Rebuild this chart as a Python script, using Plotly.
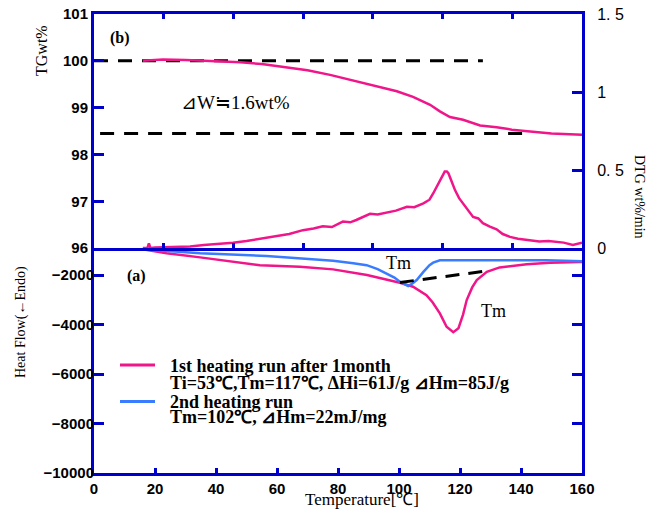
import plotly.graph_objects as go

# ---------------- data ----------------
# TG curve (top panel, left axis, wt%)
tg_t = [16, 22.6, 30, 40, 48, 55, 61, 70, 77.4, 85, 93.8, 99.3, 104.6, 110.2, 113.4, 116.7, 121, 126.6, 132, 137, 143, 150, 160]
tg_v = [100.0, 100.03, 100.02, 100.0, 99.97, 99.93, 99.88, 99.8, 99.7, 99.58, 99.45, 99.35, 99.23, 99.06, 98.92, 98.8, 98.74, 98.62, 98.58, 98.53, 98.49, 98.45, 98.42]

# DTG curve (top panel, right axis, wt%/min)
dtg_t = [16, 17.5, 18, 18.5, 20, 22.6, 27, 31.5, 36, 41, 45.6, 50, 55.4, 60, 64, 68.5, 72, 75, 78, 81.6, 84, 86, 90.5, 93, 96, 99,
         102.6, 105, 108, 110, 111.2, 112.5, 113.4, 114.3, 115, 115.7, 116.2, 117.2, 118.4, 119.7, 121, 122.5, 124.3, 126, 127.5,
         129.8, 132, 134, 136.4, 139, 143, 146, 149, 151.8, 154, 157, 160]
dtg_v = [0.0, 0.0, 0.03, 0.0, 0.003, 0.005, 0.008, 0.01, 0.02, 0.025, 0.034, 0.045, 0.062, 0.08, 0.09, 0.115, 0.125, 0.14, 0.135,
         0.17, 0.165, 0.18, 0.22, 0.215, 0.227, 0.24, 0.265, 0.262, 0.287, 0.31, 0.35, 0.4, 0.436, 0.47, 0.49, 0.49, 0.48, 0.43,
         0.37, 0.32, 0.287, 0.25, 0.2, 0.19, 0.16, 0.137, 0.12, 0.09, 0.072, 0.06, 0.05, 0.042, 0.045, 0.04, 0.035, 0.02, 0.035]

# DSC 1st heating run (bottom panel)
hf1_t = [16, 23.8, 34.8, 45.6, 54.4, 67.5, 78.4, 89.5, 100.3, 104.6, 109, 111, 113.4, 115.6, 117.8, 119.5, 121, 122.2, 124,
         125.5, 128.8, 133, 141.9, 149.5, 160]
hf1_v = [-960, -1120, -1285, -1460, -1600, -1665, -1770, -2000, -2310, -2470, -2810, -3100, -3550, -4090, -4310, -4150, -3600,
         -3010, -2500, -2200, -1870, -1690, -1560, -1500, -1470]

# DSC 2nd heating run (bottom panel)
hf2_t = [16, 34.8, 56.6, 78.4, 85, 89.4, 93, 96, 98.5, 100.3, 103, 104.5, 105.8, 108, 110, 111.2, 113.4, 130, 148.4, 160]
hf2_v = [-960, -1120, -1230, -1420, -1520, -1600, -1760, -1930, -2100, -2270, -2440, -2330, -2200, -1870, -1600, -1500, -1400,
         -1400, -1400, -1440]

# guide lines
base_t = [100.3, 129]
base_v = [-2300, -1830]
tg_top_t = [0, 127.5]
tg_top_v = [100.0, 100.0]
tg_bot_t = [2, 143]
tg_bot_v = [98.45, 98.45]

x_ticks = [0, 20, 40, 60, 80, 100, 120, 140, 160]
x_labels = ["0", "20", "40", "60", "80", "100", "120", "140", "160"]
tg_ticks = [96, 97, 98, 99, 100, 101]
tg_labels = ["96", "97", "98", "99", "100", "101"]
dtg_ticks = [0, 0.5, 1, 1.5]
dtg_labels = ["0", "0. 5", "1", "1. 5"]
hf_ticks = [-10000, -8000, -6000, -4000, -2000]
hf_labels = ["\u221210000", "\u22128000", "\u22126000", "\u22124000", "\u22122000"]
top_ticks = [160 / 7 * k for k in range(8)]

# ---------------- style ----------------
PINK = "#f0168a"
BLUE = "#3a7cff"
AX = "#0000cc"
PAGE_W, PAGE_H = 653, 509
L, R, T, B = 94, 582, 14, 473


def px(x):
    return (x - L) / (R - L)


def py(y):
    return (B - y) / (B - T)


def bold(labels):
    return ["<b>%s</b>" % s for s in labels]


tickfont = dict(family="Liberation Sans", size=15, color="black")
serif = "Liberation Serif"

fig = go.Figure()
fig.add_trace(go.Scatter(x=hf1_t, y=hf1_v, mode="lines", line=dict(color=PINK, width=2.5), xaxis="x", yaxis="y", showlegend=False))
fig.add_trace(go.Scatter(x=hf2_t, y=hf2_v, mode="lines", line=dict(color=BLUE, width=2.5), xaxis="x", yaxis="y", showlegend=False))
fig.add_trace(go.Scatter(x=base_t, y=base_v, mode="lines", line=dict(color="black", width=3, dash="14px,9px"), xaxis="x", yaxis="y", showlegend=False))
fig.add_trace(go.Scatter(x=tg_top_t, y=tg_top_v, mode="lines", line=dict(color="black", width=3, dash="14px,10px"), xaxis="x2", yaxis="y2", showlegend=False))
fig.add_trace(go.Scatter(x=tg_bot_t, y=tg_bot_v, mode="lines", line=dict(color="black", width=3, dash="14px,10px"), xaxis="x2", yaxis="y2", showlegend=False))
fig.add_trace(go.Scatter(x=tg_t, y=tg_v, mode="lines", line=dict(color=PINK, width=2.5), xaxis="x2", yaxis="y2", showlegend=False))
fig.add_trace(go.Scatter(x=dtg_t, y=dtg_v, mode="lines", line=dict(color=PINK, width=2.5), xaxis="x2", yaxis="y3", showlegend=False))

ycommon = dict(showline=True, linecolor=AX, linewidth=3, ticks="inside", tickcolor=AX, tickwidth=2.5, ticklen=10,
               showgrid=False, zeroline=False, automargin=False, ticklabeloverflow="allow")
xcommon = dict(ycommon, ticklen=5)

fig.update_layout(
    template="none",
    width=PAGE_W, height=PAGE_H, autosize=False,
    margin=dict(l=L, r=PAGE_W - R, t=T, b=PAGE_H - B, pad=0),
    paper_bgcolor="white", plot_bgcolor="white",
    xaxis=dict(xcommon, domain=[0, 1], anchor="y", range=[0, 160], tickvals=x_ticks, ticktext=bold(x_labels), tickfont=tickfont),
    yaxis=dict(ycommon, domain=[0, 0.49], anchor="x", range=[-10000, -910], tickvals=hf_ticks, ticktext=bold(hf_labels),
               tickfont=tickfont, mirror="ticks", ticklabelstandoff=-6),
    xaxis2=dict(xcommon, domain=[0, 1], anchor="y2", range=[0, 160], tickvals=top_ticks, showticklabels=False, mirror="ticks"),
    yaxis2=dict(ycommon, domain=[0.49, 1], anchor="x2", range=[96, 101], tickvals=tg_ticks, ticktext=bold(tg_labels),
                tickfont=tickfont),
    yaxis3=dict(ycommon, domain=[0.49, 1], anchor="x2", overlaying="y2", side="right", range=[0, 1.5],
                tickvals=dtg_ticks, ticktext=dtg_labels, tickfont=dict(tickfont, size=16), ticklabelstandoff=9),
)

ann = []


def txt(x, y, s, size=15, bold=False, angle=0, xanchor="center"):
    ann.append(dict(x=px(x), y=py(y), xref="paper", yref="paper", text=s, showarrow=False, textangle=angle, xanchor=xanchor,
                    yanchor="middle", font=dict(family=serif, size=size, color="black", weight="bold" if bold else "normal")))


txt(42, 51, "TGwt%", size=16, angle=-90)
txt(21, 322, "Heat Flow(←Endo)", size=14, angle=-90)
txt(640, 197, "DTG wt%/min", size=14, angle=90)
txt(362, 499, "Temperature[℃]", size=17)
txt(120, 38, "(b)", size=16, bold=True)
txt(136, 276, "(a)", size=16, bold=True)
txt(235, 102, "⊿W≒1.6wt%", size=19)
txt(398, 263, "Tm", size=18)
txt(493, 311, "Tm", size=18)
txt(168, 366, "1st heating run after 1month", size=18, bold=True, xanchor="left")
txt(168, 383, "Ti=53℃,Tm=117℃, ΔHi=61J/g ⊿Hm=85J/g", size=18, bold=True, xanchor="left")
txt(168, 401.5, "2nd heating run", size=18, bold=True, xanchor="left")
txt(168, 417, "Tm=102℃, ⊿Hm=22mJ/mg", size=18, bold=True, xanchor="left")
fig.update_layout(annotations=ann)

fig.add_shape(type="line", xref="paper", yref="paper", x0=px(120), x1=px(155), y0=py(365), y1=py(365), line=dict(color=PINK, width=3))
fig.add_shape(type="line", xref="paper", yref="paper", x0=px(120), x1=px(155), y0=py(401.5), y1=py(401.5), line=dict(color=BLUE, width=3))

# remove the browser's default 8px body margin so the figure sits at the page origin
fig.write_html("out.html", config={"displayModeBar": False},
               post_script="document.body.style.margin='0px';")
